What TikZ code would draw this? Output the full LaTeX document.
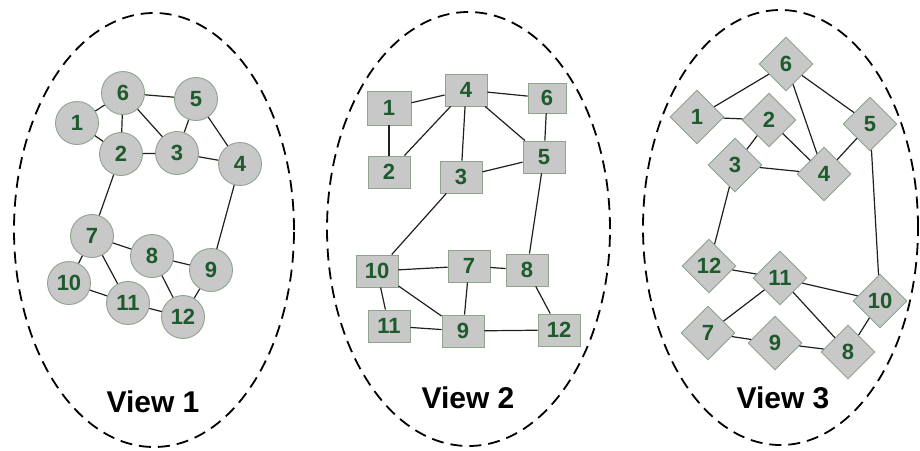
\documentclass[tikz,border=0pt]{standalone}
\usepackage{fontspec}
\setmainfont{Liberation Sans}
\usetikzlibrary{shapes.geometric}
\definecolor{nodefill}{HTML}{C8C8C8}
\definecolor{nodeline}{HTML}{8FA38F}
\definecolor{labelgreen}{HTML}{1D5A2C}
\definecolor{edgecol}{HTML}{202020}
\tikzset{
  vnode/.style={fill=nodefill, draw=nodeline, line width=0.9pt, inner sep=0pt,
    text=labelgreen, font=\fontsize{22}{22}\selectfont\bfseries},
  circnode/.style={vnode, circle, minimum size=43pt},
  boxnode/.style={vnode, rectangle, minimum width=42pt, minimum height=32pt},
  diamnode/.style={vnode, diamond, aspect=1, minimum size=54pt},
  link/.style={draw=edgecol, line width=1.2pt},
  viewborder/.style={draw=black, line width=1.8pt, dash pattern=on 12pt off 7pt},
  viewtitle/.style={font=\fontsize{30}{30}\selectfont\bfseries, text=black}
}
\begin{document}
\begin{tikzpicture}[x=1pt, y=-1pt]
\useasboundingbox (0,0) rectangle (920,450);
\fill[white] (0,0) rectangle (920,450);

% ---------- first view: circles ----------
\draw[viewborder] (154,230) ellipse [x radius=140pt, y radius=217pt];
\node[circnode] (a6)  at (123,93)  {6};
\node[circnode] (a5)  at (196,99)  {5};
\node[circnode] (a1)  at (77,123)  {1};
\node[circnode] (a2)  at (121,154) {2};
\node[circnode] (a3)  at (177,153) {3};
\node[circnode] (a4)  at (240,164) {4};
\node[circnode] (a7)  at (92,236)  {7};
\node[circnode] (a8)  at (152,256) {8};
\node[circnode] (a9)  at (211,270) {9};
\node[circnode] (a10) at (69,283)  {10};
\node[circnode] (a11) at (128,303) {11};
\node[circnode] (a12) at (183,317) {12};
\foreach \u/\v in {1/6,1/2,6/2,6/5,6/3,5/3,5/4,2/3,3/4,2/7,4/9,7/8,7/10,7/11,8/9,8/12,10/11,11/12,12/9}
  \draw[link] (a\u) -- (a\v);
\node[viewtitle] (t1) at (153,402) {View 1};

% ---------- second view: boxes ----------
\draw[viewborder] (468.5,229) ellipse [x radius=141.5pt, y radius=217pt];
\node[boxnode, minimum width=44pt, minimum height=34pt] (b1) at (389,108) {1};
\node[boxnode] (b4)  at (466,90)  {4};
\node[boxnode, minimum width=38pt, minimum height=30pt] (b6) at (547,98) {6};
\node[boxnode] (b2)  at (389,172) {2};
\node[boxnode] (b3)  at (461,177) {3};
\node[boxnode] (b5)  at (544,157) {5};
\node[boxnode] (b10) at (377,271) {10};
\node[boxnode] (b7)  at (469,266) {7};
\node[boxnode] (b8)  at (527,270) {8};
\node[boxnode] (b11) at (389,326) {11};
\node[boxnode] (b9)  at (463,331) {9};
\node[boxnode] (b12) at (559,330) {12};
\foreach \u/\v in {1/4,1/2,2/4,4/6,4/3,4/5,6/5,3/5,3/10,5/8,10/7,7/8,7/9,10/11,10/9,11/9,9/12,8/12}
  \draw[link] (b\u) -- (b\v);
\node[viewtitle] (t2) at (468,398) {View 2};

% ---------- third view: diamonds ----------
\draw[viewborder] (780.5,227.5) ellipse [x radius=137.5pt, y radius=217.5pt];
\node[diamnode] (c6)  at (786,64)  {6};
\node[diamnode] (c1)  at (697,117) {1};
\node[diamnode] (c2)  at (769,120) {2};
\node[diamnode] (c5)  at (870,124) {5};
\node[diamnode] (c3)  at (735,165) {3};
\node[diamnode] (c4)  at (824,174) {4};
\node[diamnode] (c12) at (709,266) {12};
\node[diamnode] (c11) at (780,278) {11};
\node[diamnode] (c10) at (880,301) {10};
\node[diamnode] (c7)  at (708,333) {7};
\node[diamnode] (c9)  at (775,343) {9};
\node[diamnode] (c8)  at (848,352) {8};
\foreach \u/\v in {6/1,6/4,6/5,1/2,2/3,2/4,3/4,5/4,5/10,3/12,12/11,11/10,11/7,11/8,10/8,7/9,9/8}
  \draw[link] (c\u) -- (c\v);
\node[viewtitle] (t3) at (783,398) {View 3};
\end{tikzpicture}
\end{document}
